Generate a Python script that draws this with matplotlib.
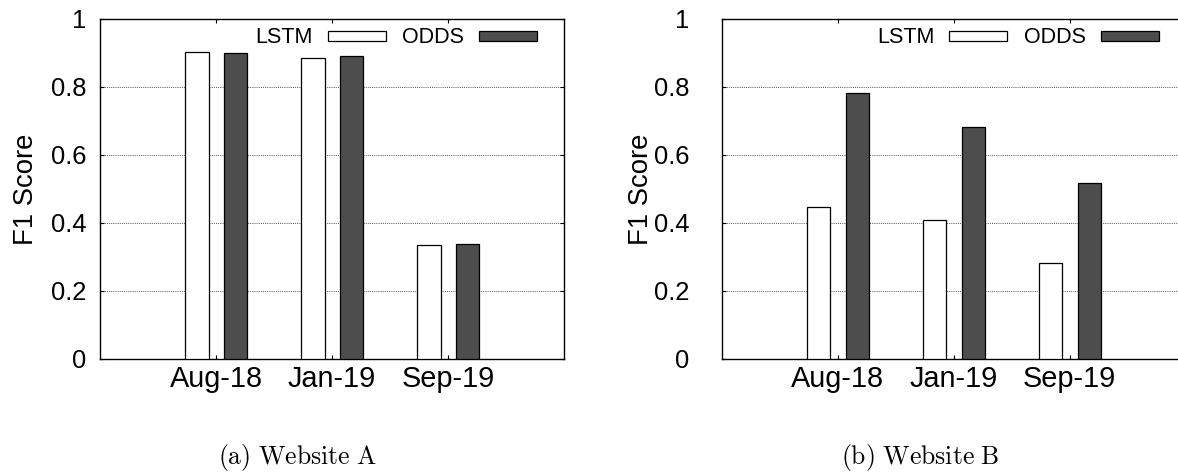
import matplotlib
matplotlib.use("Agg")
import matplotlib.pyplot as plt
from matplotlib.patches import Rectangle
import numpy as np

# ---- data ----
categories = ["Aug-18", "Jan-19", "Sep-19"]
series_names = ["LSTM", "ODDS"]
website_a_lstm = [0.903, 0.886, 0.336]
website_a_odds = [0.899, 0.890, 0.338]
website_b_lstm = [0.446, 0.410, 0.282]
website_b_odds = [0.782, 0.681, 0.517]
yticks = [0, 0.2, 0.4, 0.6, 0.8, 1.0]
ytick_labels = ["0", "0.2", "0.4", "0.6", "0.8", "1"]
captions = [r"$\mathrm{(a)\ Website\ A}$", r"$\mathrm{(b)\ Website\ B}$"]
ylabel = "F1 Score"

plt.rcParams["font.family"] = ["Liberation Sans", "DejaVu Sans"]
plt.rcParams["mathtext.fontset"] = "cm"

W, H = 1178, 472
fig = plt.figure(figsize=(W / 100, H / 100), dpi=100)

def px_axes(left, top, right, bottom):
    return fig.add_axes([left / W, (H - bottom) / H, (right - left) / W, (bottom - top) / H])

fills = ["white", "#4d4d4d"]
offsets = [-0.164, 0.171]
bar_w = 0.2

panels = [
    dict(ax=px_axes(100, 19, 564, 359), data=[website_a_lstm, website_a_odds], ypad=9.6, lab_x=26, ax_left=100),
    dict(ax=px_axes(721.7, 19, 1185.7, 359), data=[website_b_lstm, website_b_odds], ypad=23.3, lab_x=641, ax_left=721.7),
]

x = np.arange(1, len(categories) + 1)
for i, p in enumerate(panels):
    ax = p["ax"]
    for s, vals in enumerate(p["data"]):
        ax.bar(x + offsets[s], vals, width=bar_w, color=fills[s], edgecolor="black",
               linewidth=0.9, zorder=3)
    ax.set_xlim(0, 4)
    ax.set_ylim(0, 1)
    ax.set_xticks(x)
    ax.set_xticklabels(categories, fontsize=20.8)
    ax.set_yticks(yticks)
    ax.set_yticklabels(ytick_labels, fontsize=18.4)
    ax.tick_params(axis="x", direction="in", length=3, width=0.8, top=True, pad=4.5)
    ax.tick_params(axis="y", direction="in", length=3, width=0.8, right=True, pad=p["ypad"])
    ax.set_axisbelow(True)
    ax.yaxis.grid(True, linestyle=(0, (1, 1.2)), color="#555555", linewidth=0.7)
    for sp in ax.spines.values():
        sp.set_linewidth(1.0)
    ax.set_ylabel(ylabel, fontsize=19.8, va="center")
    ax.yaxis.set_label_coords((p["lab_x"] - p["ax_left"]) / 464.0, 0.5)

    # gnuplot-style key: label then sample box
    text_right = [1.837, 3.138]
    box_left = [1.963, 3.267]
    for s, name in enumerate(series_names):
        ax.text(text_right[s], 0.930, name, ha="right", va="baseline", fontsize=15.5, zorder=5)
        ax.add_patch(Rectangle((box_left[s], 0.934), 0.5, 0.0315, facecolor=fills[s],
                               edgecolor="black", linewidth=0.9, zorder=5))

fig.text(297.5 / W, (H - 464) / H, captions[0], ha="center", va="baseline", fontsize=18.5)
fig.text(920 / W, (H - 464) / H, captions[1], ha="center", va="baseline", fontsize=18.5)

fig.savefig("out.png", dpi=100)
